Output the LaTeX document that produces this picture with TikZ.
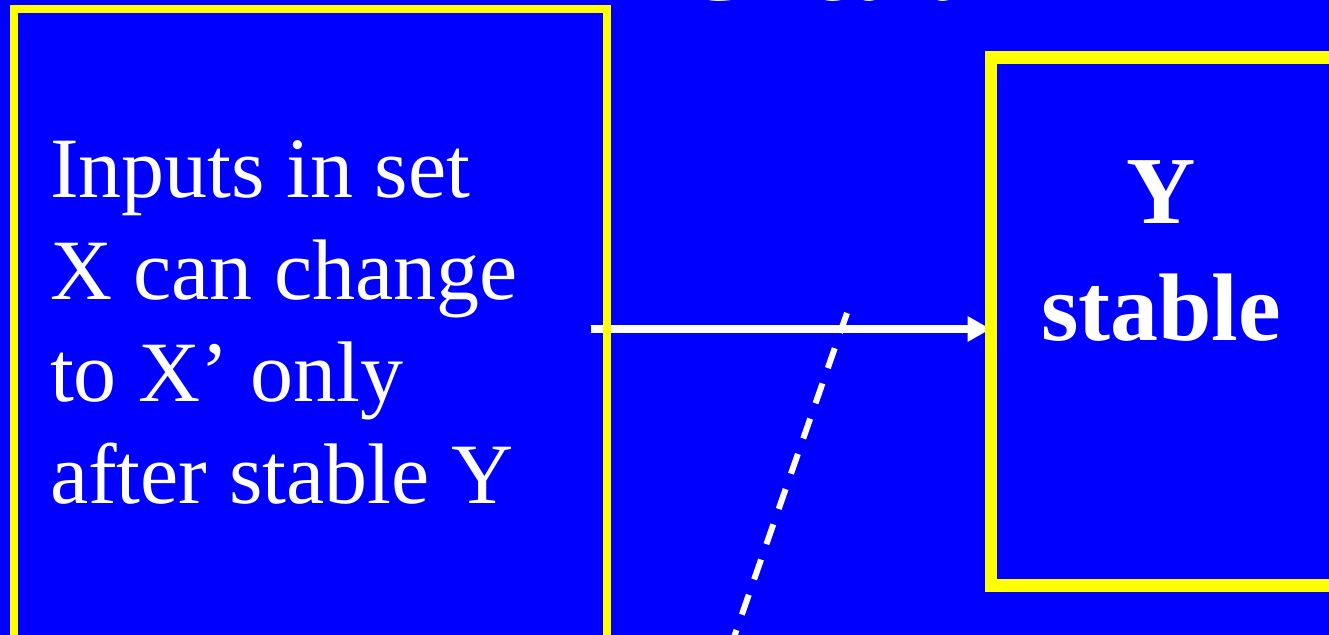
\documentclass[tikz,border=0pt]{standalone}
\usepackage{fontspec}
\setmainfont{Liberation Serif}
\usetikzlibrary{arrows.meta}
\definecolor{bgblue}{RGB}{0,0,255}
\definecolor{boxyellow}{RGB}{255,255,0}
\pgfdeclarelayer{bg}
\pgfdeclarelayer{mid}
\pgfsetlayers{bg,mid,main}
\begin{document}
\begin{tikzpicture}[x=1pt,y=-1pt,
  framebox/.style={draw=boxyellow, rectangle, inner sep=0pt, outer sep=0pt, anchor=north west},
  lefttext/.style={text=white, inner sep=0pt, outer sep=0pt, align=left, anchor=north west, font=\fontsize{86}{102}\selectfont},
  righttext/.style={text=white, inner sep=0pt, outer sep=0pt, align=center, anchor=north, font=\fontsize{96}{116.7}\selectfont\bfseries},
  titletext/.style={text=white, inner sep=0pt, outer sep=0pt, anchor=base, font=\fontsize{98}{118}\selectfont},
  flowarrow/.style={draw=white, line width=8.5pt, -{Triangle[length=23pt,width=24pt]}},
  dashline/.style={draw=white, line width=6pt, dash pattern=on 21pt off 16.3pt}]
\useasboundingbox (0,0) rectangle (1329,634);
\begin{pgfonlayer}{bg}
  \fill[bgblue] (-20,-20) rectangle (1360,660);
\end{pgfonlayer}
% boxes
\node[framebox, line width=8.3pt, minimum width=592.4pt, minimum height=660pt] (left) at (14.3,9.3) {};
\node[framebox, line width=12.3pt, minimum width=420pt, minimum height=528pt] (right) at (990.7,57.5) {};
% texts
\node[titletext] (title) at (818,0.2) {Circuit};
\node[lefttext] (ltext) at (50,126.5) {\strut Inputs in set\\X can change\\to X’ only\\after stable Y};
\node[righttext] (rtext) at (1161,142) {\strut Y\\stable};
% connectors
\coordinate (astart) at (590.7,329);
\coordinate (dstart) at (847,313);
\coordinate (dend) at (729.5,650);
\begin{pgfonlayer}{mid}
  \draw[flowarrow] (astart) -- (astart -| right.west);
  \draw[dashline] (dstart) -- (dend);
\end{pgfonlayer}
\end{tikzpicture}
\end{document}
